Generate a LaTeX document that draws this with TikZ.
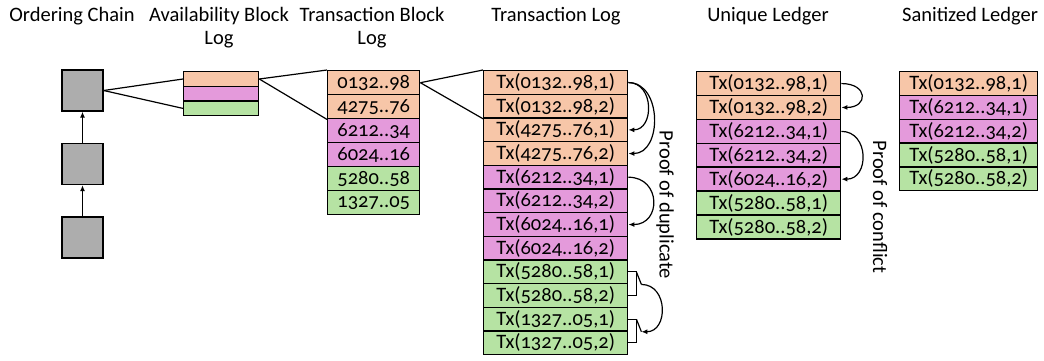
\documentclass[tikz,border=0pt]{standalone}
\usepackage{fontspec}
\setmainfont{Carlito}[Numbers=OldStyle]
\usetikzlibrary{arrows.meta,calc}

\definecolor{peach}{HTML}{F7C6A8}
\definecolor{orchid}{HTML}{E49ADB}
\definecolor{mint}{HTML}{B6E3A3}
\definecolor{blockgray}{HTML}{ADADAD}

\begin{document}
\begin{tikzpicture}[x=1pt,y=-1pt,
  txt/.style={font=\fontsize{20.5}{23.5}\selectfont},
  title/.style={txt, anchor=base, align=center, inner sep=0pt},
  cell/.style={txt, draw, line width=1.4pt, inner sep=0pt, anchor=north west,
               minimum height=23.7pt},
  txcell/.style={cell, minimum width=144pt},
  hashcell/.style={cell, minimum width=92pt, minimum height=24pt},
  sancell/.style={cell, minimum width=138pt, minimum height=23.8pt},
  chainblock/.style={draw, line width=1.3pt, fill=blockgray, minimum size=41pt, inner sep=0pt},
  availrow/.style={draw, line width=1.3pt, minimum width=75pt, minimum height=14.7pt,
                   inner sep=0pt, anchor=north west},
  link/.style={line width=1.2pt},
  proof/.style={line width=1.2pt, -{Latex[length=6pt,width=5pt]}},
  note/.style={txt, rotate=-90, inner sep=0pt}]

\useasboundingbox (0,0) rectangle (1044,360);

% column headings (two-line ones are placed by their last baseline)
\node[title] (h1) at (72,21) {Ordering Chain};
\node[title] (h2) at (219,44.5) {Availability Block\\Log};
\node[title] (h3) at (372,44.5) {Transaction Block\\Log};
\node[title] (h4) at (556,21) {Transaction Log};
\node[title] (h5) at (768,21) {Unique Ledger};
\node[title] (h6) at (970,21) {Sanitized Ledger};

% ordering chain
\node[chainblock] (o1) at (82.5,90.5) {};
\node[chainblock] (o2) at (82.5,164) {};
\node[chainblock] (o3) at (82.5,237.5) {};
\draw[proof] (o3.north) -- (o2.south);
\draw[proof] (o2.north) -- (o1.south);

% availability block log
\node[availrow, fill=peach]  (a1) at (183,71) {};
\node[availrow, fill=orchid] (a2) at (183,85.7) {};
\node[availrow, fill=mint]   (a3) at (183,100.4) {};

% transaction block log
\node[hashcell, fill=peach]  (b1) at (327,70)  {0132..98};
\node[hashcell, fill=peach]  (b2) at (327,94)  {4275..76};
\node[hashcell, fill=orchid] (b3) at (327,118) {6212..34};
\node[hashcell, fill=orchid] (b4) at (327,142) {6024..16};
\node[hashcell, fill=mint]   (b5) at (327,166) {5280..58};
\node[hashcell, fill=mint]   (b6) at (327,190) {1327..05};

% transaction log
\node[txcell, fill=peach]  (t1)  at (483,70)     {Tx(0132..98,1)};
\node[txcell, fill=peach]  (t2)  at (483,93.67)  {Tx(0132..98,2)};
\node[txcell, fill=peach]  (t3)  at (483,117.33) {Tx(4275..76,1)};
\node[txcell, fill=peach]  (t4)  at (483,141)    {Tx(4275..76,2)};
\node[txcell, fill=orchid] (t5)  at (483,164.67) {Tx(6212..34,1)};
\node[txcell, fill=orchid] (t6)  at (483,188.33) {Tx(6212..34,2)};
\node[txcell, fill=orchid] (t7)  at (483,212)    {Tx(6024..16,1)};
\node[txcell, fill=orchid] (t8)  at (483,235.67) {Tx(6024..16,2)};
\node[txcell, fill=mint]   (t9)  at (483,259.33) {Tx(5280..58,1)};
\node[txcell, fill=mint]   (t10) at (483,283)    {Tx(5280..58,2)};
\node[txcell, fill=mint]   (t11) at (483,306.67) {Tx(1327..05,1)};
\node[txcell, fill=mint]   (t12) at (483,330.33) {Tx(1327..05,2)};

% unique ledger
\node[txcell, fill=peach]  (u1) at (696,71)    {Tx(0132..98,1)};
\node[txcell, fill=peach]  (u2) at (696,94.9)  {Tx(0132..98,2)};
\node[txcell, fill=orchid] (u3) at (696,118.8) {Tx(6212..34,1)};
\node[txcell, fill=orchid] (u4) at (696,142.7) {Tx(6212..34,2)};
\node[txcell, fill=orchid] (u5) at (696,166.6) {Tx(6024..16,2)};
\node[txcell, fill=mint]   (u6) at (696,190.5) {Tx(5280..58,1)};
\node[txcell, fill=mint]   (u7) at (696,214.4) {Tx(5280..58,2)};

% sanitized ledger
\node[sancell, fill=peach]  (s1) at (899,71)    {Tx(0132..98,1)};
\node[sancell, fill=orchid] (s2) at (899,94.8)  {Tx(6212..34,1)};
\node[sancell, fill=orchid] (s3) at (899,118.6) {Tx(6212..34,2)};
\node[sancell, fill=mint]   (s4) at (899,142.4) {Tx(5280..58,1)};
\node[sancell, fill=mint]   (s5) at (899,166.2) {Tx(5280..58,2)};

% zoom-in fans between the levels
\draw[link] (o1.east) -- (a1.west);
\draw[link] (o1.east) -- (a3.west);
\draw[link] (a1.east) -- (b1.north west);
\draw[link] (a1.east) -- (b2.south west);
\draw[link] (b1.east) -- (t1.north west);
\draw[link] (b1.east) -- (t2.south west);

% duplicate proofs
\draw[proof] (t1.east) .. controls +(26,0) and +(26,0) .. (t3.east);
\draw[proof] (t1.east) .. controls +(34,0) and +(34,0) .. (t4.east);
\draw[proof] (t5.east) .. controls +(33,0) and +(33,0) .. (t7.east);

% brackets grouping the green pairs
\coordinate (g1top) at (t9.east);
\coordinate (g1bot) at (t10.east);
\coordinate (g1mid) at ($(t9.south east)+(13,0)$);
\coordinate (g2top) at (t11.east);
\coordinate (g2bot) at (t12.east);
\coordinate (g2mid) at ($(t11.south east)+(13,0)$);
\draw[link] (g1top) -- ++(8,0) |- (g1bot);
\draw[link] ($(g1top)+(8,0)$ |- g1mid) -- (g1mid);
\draw[link] (g2top) -- ++(8,0) |- (g2bot);
\draw[link] ($(g2top)+(8,0)$ |- g2mid) -- (g2mid);
\draw[proof] (g1mid) .. controls +(27,0) and +(27,0) .. (g2mid);

\node[note] (n1) at (665,205) {Proof of duplicate};

% conflict proofs
\draw[proof] (u1.east) .. controls +(27,0) and +(27,0) .. (u2.east);
\draw[proof] (u3.east) .. controls +(28,0) and +(28,0) .. (u5.east);

\node[note] (n2) at (880,207) {Proof of conflict};

\end{tikzpicture}
\end{document}
